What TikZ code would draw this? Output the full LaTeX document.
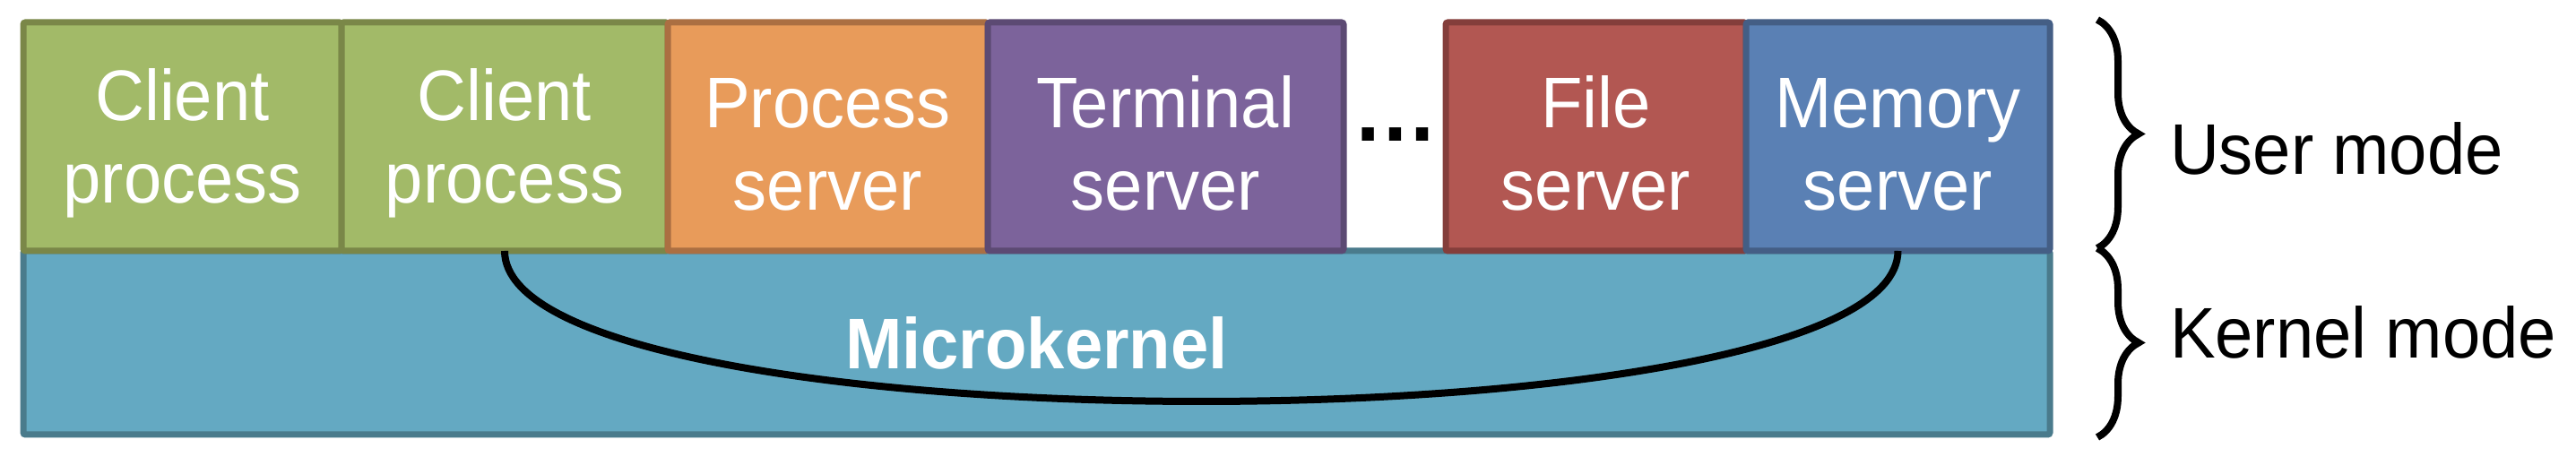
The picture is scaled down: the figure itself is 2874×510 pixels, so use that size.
\documentclass[tikz,border=0pt]{standalone}
\usepackage{fontspec}
\setmainfont[FakeStretch=0.95]{Liberation Sans}
\usetikzlibrary{decorations.pathreplacing}
\definecolor{grnfill}{HTML}{A2BA68}\definecolor{grnline}{HTML}{7A8748}
\definecolor{orgfill}{HTML}{E89B5A}\definecolor{orgline}{HTML}{AB6F42}
\definecolor{purfill}{HTML}{7C639B}\definecolor{purline}{HTML}{5C4A73}
\definecolor{redfill}{HTML}{B25752}\definecolor{redline}{HTML}{843E3B}
\definecolor{blufill}{HTML}{5A80B4}\definecolor{bluline}{HTML}{445E85}
\definecolor{tealfill}{HTML}{64A9C2}\definecolor{tealline}{HTML}{4A7B8C}
\newcommand{\twolines}[2]{\rule{0pt}{18pt}#1\\#2}
\tikzset{every node/.style={draw=none,inner sep=0pt,outer sep=0pt},
  box/.style={draw,line width=1.75pt,rounded corners=0.6pt,minimum height=63.75pt,
    text=white,align=center,font=\fontsize{20}{23}\selectfont},
  modetext/.style={anchor=base west,font=\fontsize{20}{23}\selectfont}}

\begin{document}
\begin{tikzpicture}[x=0.25pt,y=0.25pt]
  \useasboundingbox (0,0) rectangle (2874,510);
      \node[box,fill=tealfill,draw=tealline,minimum width=565.25pt,minimum height=51.25pt,
        font=\fontsize{20}{23}\selectfont\bfseries] (k) at (1156.5,127.5) {Microkernel};
      \node[box,fill=grnfill,draw=grnline,minimum width=88.75pt] (c1) at (203.5,357.5) {\twolines{Client}{process}};
      \node[box,fill=grnfill,draw=grnline,minimum width=91pt] (c2) at (563,357.5) {\twolines{Client}{process}};
      \node[box,fill=orgfill,draw=orgline,minimum width=89.25pt] (ps) at (923.5,357.5) {\twolines{Process}{server}};
      \node[box,fill=purfill,draw=purline,minimum width=99.25pt] (ts) at (1300.5,357.5) {\twolines{Terminal}{server}};
      \node[box,fill=redfill,draw=redline,minimum width=83.75pt] (fs) at (1780.5,357.5) {\twolines{File}{server}};
      \node[box,fill=blufill,draw=bluline,minimum width=84.75pt] (ms) at (2117.5,357.5) {\twolines{Memory}{server}};
      \node[anchor=base,font=\fontsize{25}{25}\selectfont\bfseries] (dots) at (1557,352) {…};

      \node[modetext] (um) at (2421,315) {User mode};
      \node[modetext] (km) at (2421,110) {Kernel mode};

      \coordinate (b1) at (2340,488);
      \coordinate (b2) at (2340,233);
      \coordinate (b3) at (2340,22);

  \draw[line width=2pt] (c2.south) .. controls +(0,-224) and +(0,-224) .. (ms.south);
  \draw[line width=2pt,decorate,decoration={brace,amplitude=11.5pt}] (b1) -- (b2);
  \draw[line width=2pt,decorate,decoration={brace,amplitude=11.5pt}] (b2) -- (b3);
    \end{tikzpicture}
\end{document}
